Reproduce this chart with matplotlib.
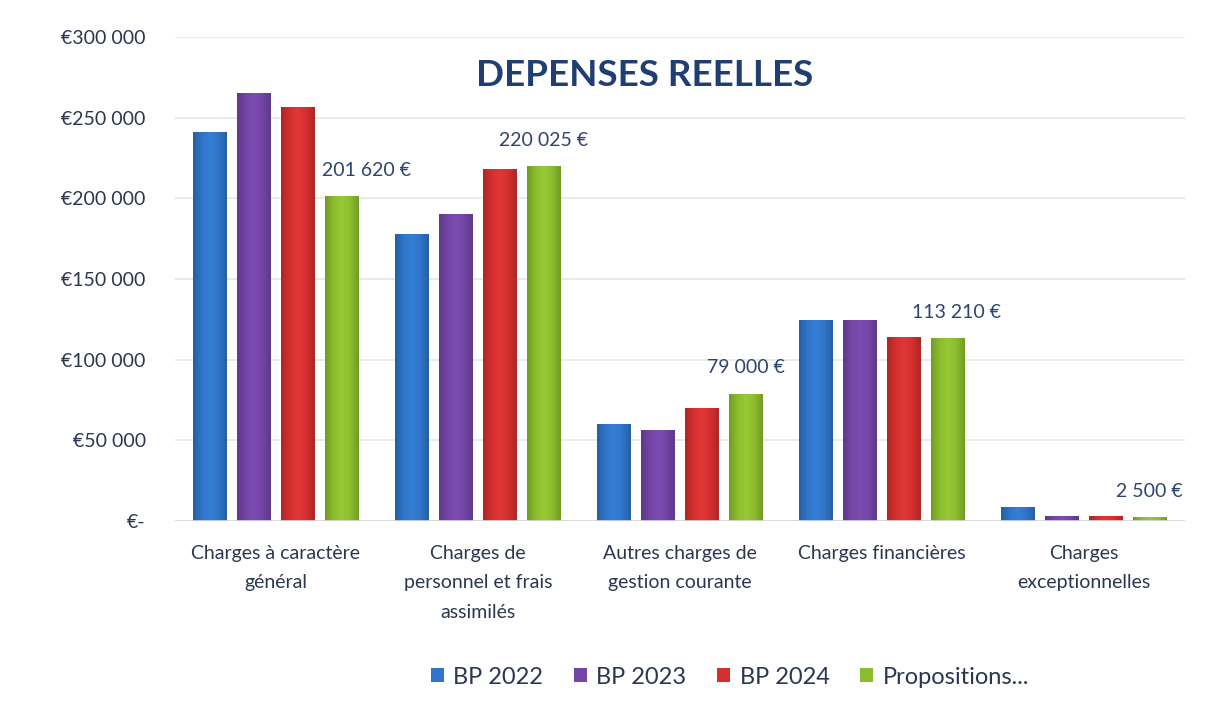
import numpy as np
import matplotlib

matplotlib.use("Agg")
import matplotlib.pyplot as plt
from matplotlib.colors import LinearSegmentedColormap, to_rgb
from matplotlib.ticker import FuncFormatter, MultipleLocator

plt.rcParams["font.family"] = ["Lato", "DejaVu Sans"]

categories = [
    "Charges à caractère\ngénéral",
    "Charges de\npersonnel et frais\nassimilés",
    "Autres charges de\ngestion courante",
    "Charges financières",
    "Charges\nexceptionnelles",
]
series_names = ["BP 2022", "BP 2023", "BP 2024", "Propositions..."]
bp_2022 = [241000, 178000, 60000, 124500, 8500]
bp_2023 = [265000, 190500, 56500, 124500, 3000]
bp_2024 = [256500, 218000, 70000, 114000, 3000]
propositions = [201620, 220025, 79000, 113210, 2500]
colors = ["#2F74C8", "#7345A6", "#D3302F", "#8CBD2E"]

TEXT = "#2B3650"
LABEL = "#2E4470"


def euro(v, _pos=None):
    if v == 0:
        return "€-"
    return "€" + f"{int(v):,}".replace(",", " ")


def label_text(v):
    return f"{int(v):,}".replace(",", " ") + " €"


def shade(ax, bar, color):
    # soft horizontal gradient: slightly darker edges, lighter middle
    r, g, b = to_rgb(color)
    dark = (r * 0.82, g * 0.82, b * 0.82)
    light = (min(1, r * 1.04 + 0.02), min(1, g * 1.04 + 0.02), min(1, b * 1.04 + 0.02))
    cmap = LinearSegmentedColormap.from_list("c", [dark, color, light, color, dark])
    x0, y0 = bar.get_x(), bar.get_y()
    w, h = bar.get_width(), bar.get_height()
    grad = np.linspace(0, 1, 64).reshape(1, -1)
    im = ax.imshow(grad, cmap=cmap, aspect="auto", extent=(x0, x0 + w, y0, y0 + h),
                   zorder=bar.get_zorder() + 0.1, interpolation="bilinear")
    im.set_clip_path(bar)


fig = plt.figure(figsize=(12.15, 7.11), dpi=100)
ax = fig.add_axes([0.144, 0.267, 0.831, 0.681])

x = np.arange(len(categories))
width = 0.168
pitch = 0.218
data = [bp_2022, bp_2023, bp_2024, propositions]
for i, (vals, col, name) in enumerate(zip(data, colors, series_names)):
    bars = ax.bar(x + (i - 1.5) * pitch, vals, width, color=col, label=name, zorder=3,
                  edgecolor="none")
    for b in bars:
        shade(ax, b, col)

# value labels on the last series
offsets = [18, 0, 0, 6, 0]
for xi, v, dx in zip(x, propositions, offsets):
    ax.annotate(label_text(v), (xi + 1.5 * pitch, v), xytext=(dx, 18.5),
                textcoords="offset points", ha="center", va="center",
                fontsize=14, color=LABEL, zorder=5)

ax.set_xlim(-0.5, len(categories) - 0.5)
ax.set_ylim(0, 300000)
ax.yaxis.set_major_locator(MultipleLocator(50000))
ax.yaxis.set_major_formatter(FuncFormatter(euro))
ax.grid(axis="y", color="#E4E6EA", lw=1.2, zorder=0)
ax.axhline(0, color="#D8DADF", lw=1.2, zorder=4)
for s in ax.spines.values():
    s.set_visible(False)
ax.tick_params(axis="y", length=0, pad=21, labelsize=14, labelcolor=TEXT)
ax.tick_params(axis="x", length=0, pad=17, labelsize=14, labelcolor=TEXT)
ax.set_xticks(x)
ax.set_xticklabels(categories, linespacing=1.9, va="top")

fig.text(645 / 1215, 1 - 75 / 711, "DEPENSES REELLES", ha="center", va="center",
         fontsize=26.5, fontweight="bold", color="#1F3F73")

leg = fig.legend(loc="center", bbox_to_anchor=(730 / 1215, 1 - 677 / 711), ncol=4,
                 frameon=False, fontsize=17, handlelength=0.55, handleheight=0.55,
                 handletextpad=0.4, columnspacing=1.3, labelcolor=TEXT)

fig.savefig("out.png", dpi=100, facecolor="white")
